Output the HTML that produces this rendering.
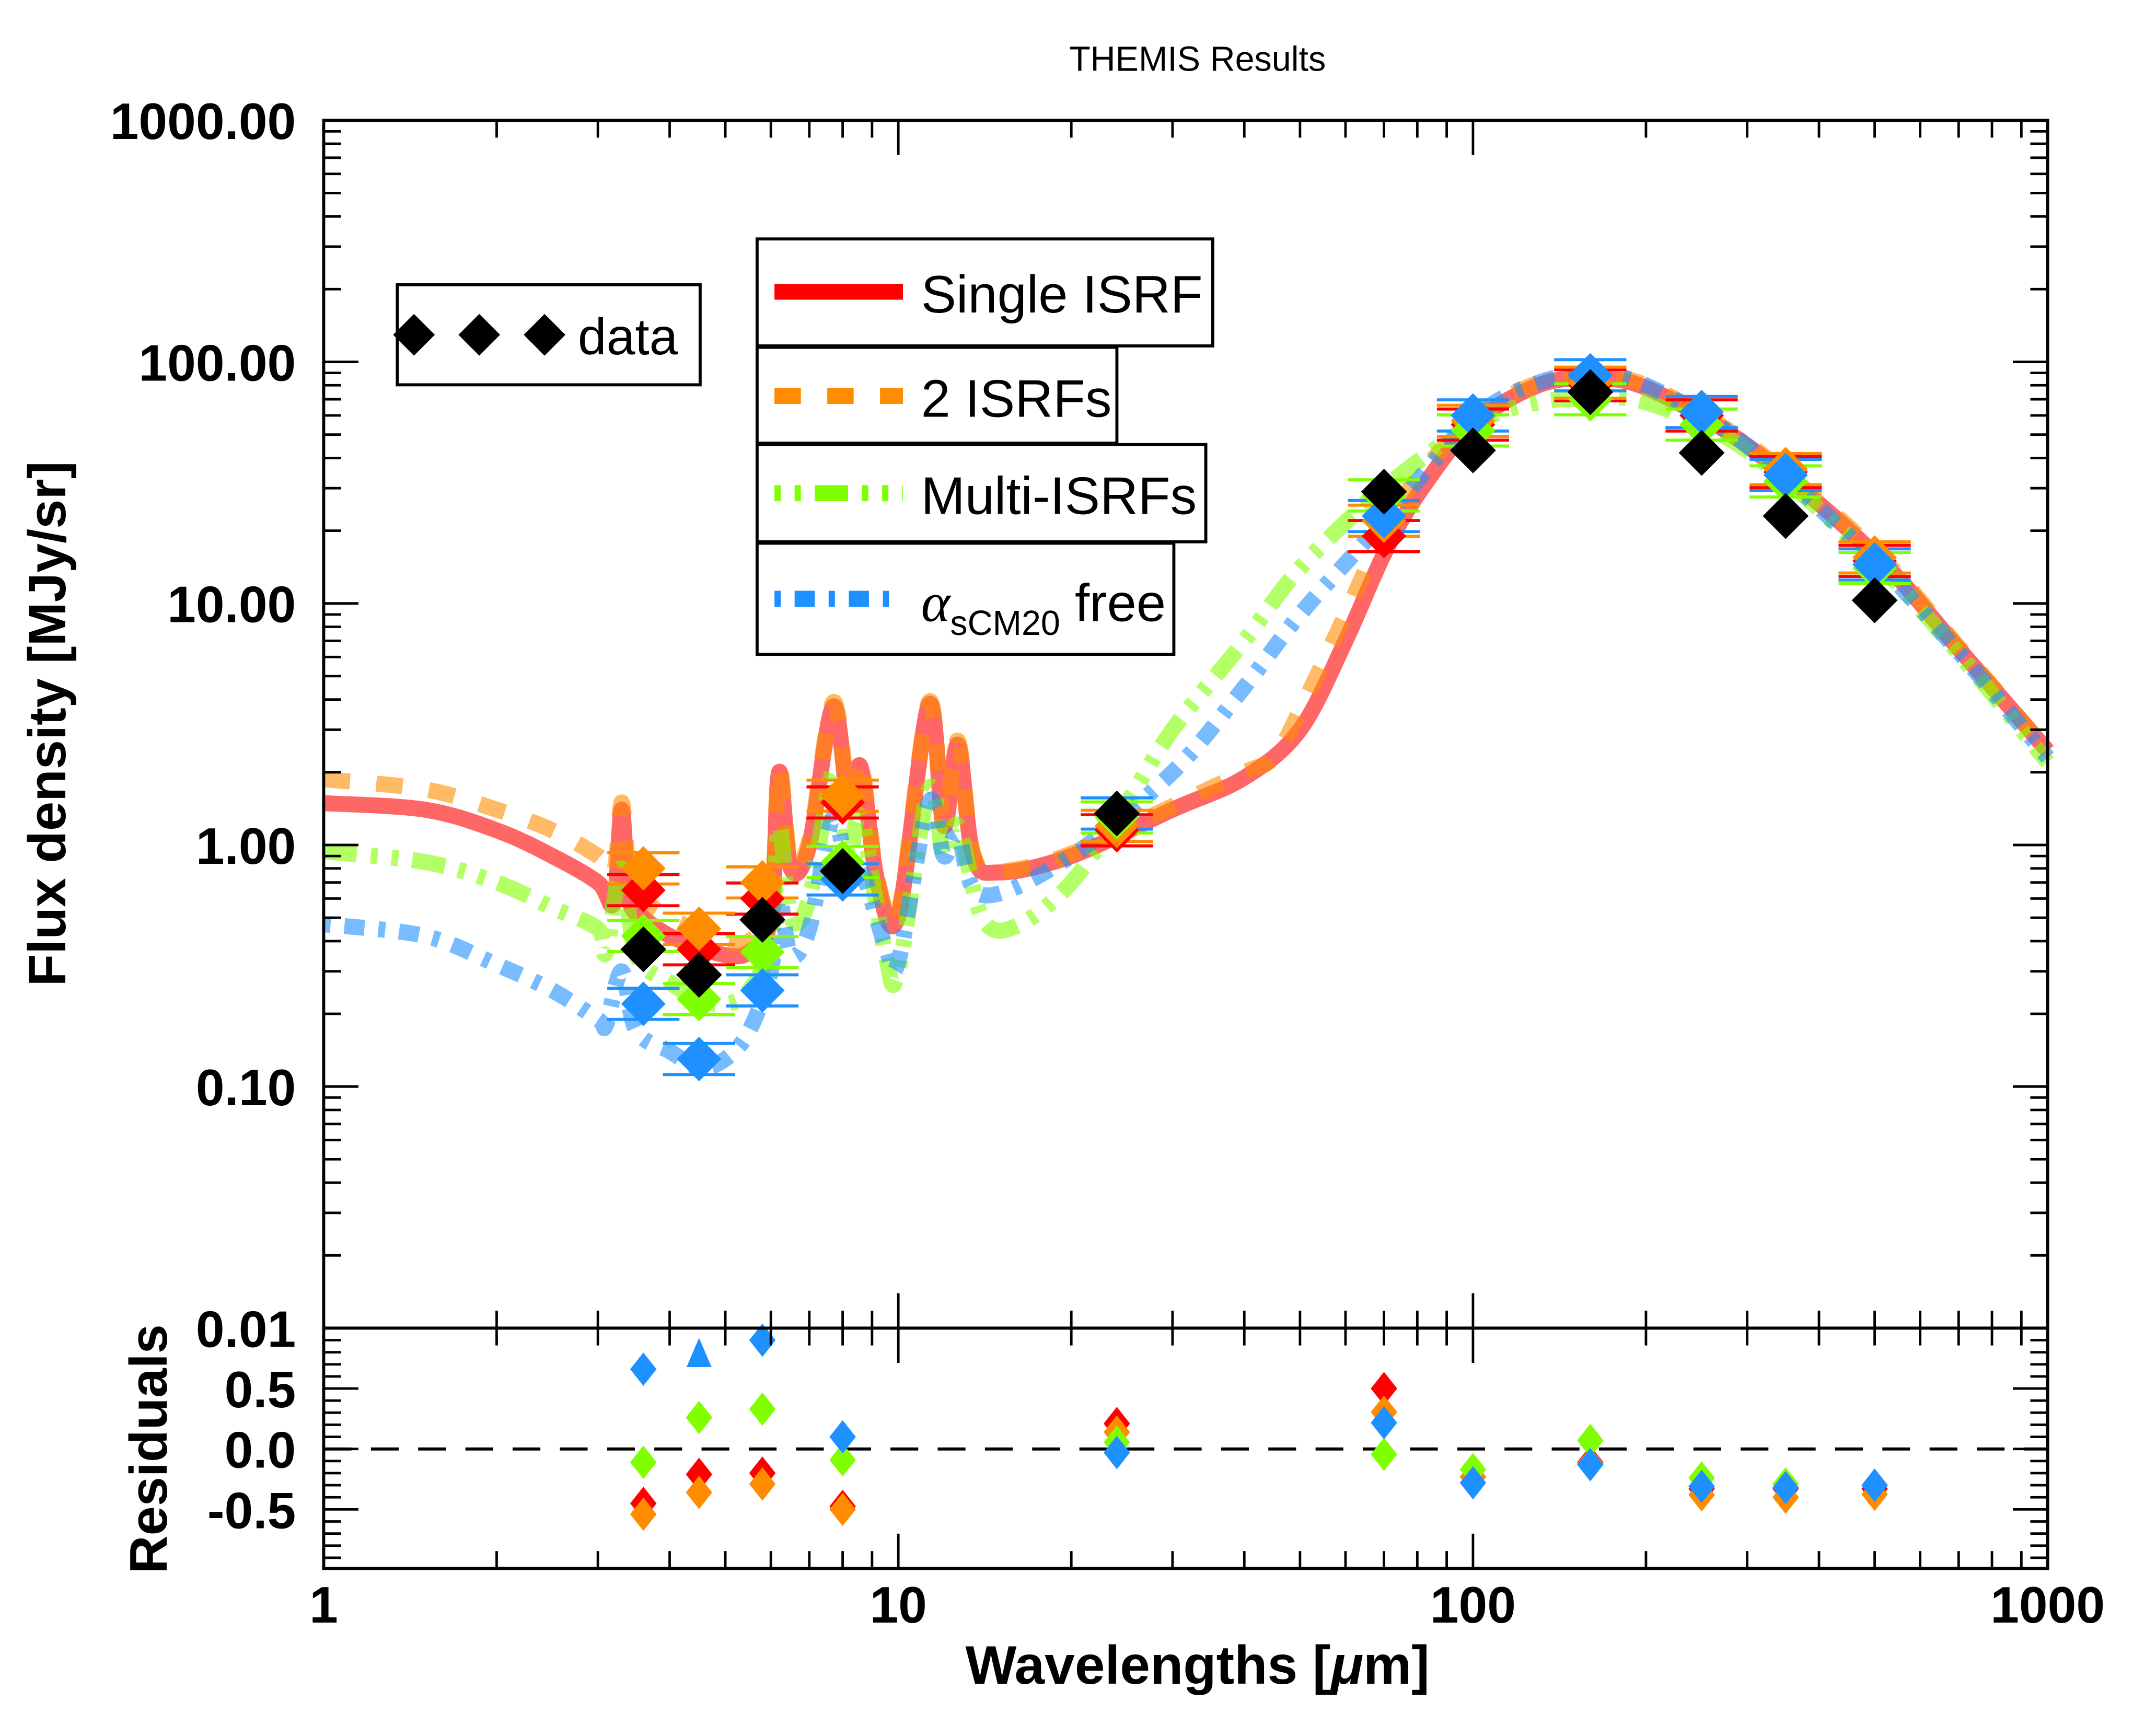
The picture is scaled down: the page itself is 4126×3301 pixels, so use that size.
<!DOCTYPE html>
<html><head><meta charset="utf-8"><style>
html,body{margin:0;padding:0;background:#fff;}
svg{display:block;}
text{font-family:"Liberation Sans",sans-serif;}
</style></head><body>
<svg id="chart" width="4126" height="3301" viewBox="0 0 1552 1241.7" preserveAspectRatio="none" xmlns="http://www.w3.org/2000/svg">
<rect width="1552" height="1241.7" fill="#fff"/>
<g id="curves"></g>
<g id="errs"></g>
<g id="pts"></g>
<g id="resid"></g>
<g id="axes"></g>
<g id="legend"></g>
</svg>
<script>
// ---- data ----
const bandWaves = [3.6, 4.5, 5.8, 8.0, 24, 70, 100, 160, 250, 350, 500];
const obsFlux   = [0.37, 0.29, 0.49, 0.78, 1.35, 29, 43, 75, 42, 23, 10.3];
const singleFlux = [0.65, 0.37, 0.60, 1.5, 1.15, 19, 55, 80, 60, 35, 15];
const twoFlux    = [0.80, 0.45, 0.70, 1.6, 1.2, 22, 57, 82, 62, 36, 15.5];
const multiFlux  = [0.42, 0.23, 0.36, 0.85, 1.3, 28, 52, 70, 55, 32, 14];
const alphaFlux  = [0.22, 0.13, 0.25, 0.72, 1.35, 23, 60, 88, 62, 34, 14.5];
const singleRes = [-0.45, -0.21, -0.20, -0.475, 0.21, 0.50, -0.23, -0.11, -0.33, -0.33, -0.33];
const twoRes    = [-0.54, -0.36, -0.29, -0.50, 0.14, 0.305, -0.23, -0.12, -0.38, -0.40, -0.375];
const multiRes  = [-0.11, 0.26, 0.33, -0.09, 0.055, -0.044, -0.17, 0.07, -0.24, -0.29, -0.30];
const alphaRes  = [0.66, 0.77, 0.90, 0.10, -0.03, 0.217, -0.28, -0.13, -0.31, -0.32, -0.30];
const singleWave = [1,1.5,2,2.5,3,3.2,3.3,3.4,3.6,4,4.5,5,5.5,6,6.2,6.5,7,7.7,8.2,8.6,9.2,10,11.3,12,12.7,13.5,15,20,30,40,50,60,70,80,100,130,160,200,300,500,700,1000];
const singleSed  = [1.49,1.4,1.15,0.9,0.7,0.58,1.4,0.6,0.5,0.42,0.38,0.35,0.36,0.5,2.0,0.8,1.0,3.74,1.5,2.1,0.7,0.51,3.8,1.2,2.6,0.9,0.77,0.9,1.4,1.9,3,7,16,28,55,80,85,78,45,16,6.5,2.45];
const twoWave = [1,1.5,2,2.5,3,3.2,3.3,3.4,3.6,4,4.5,5,5.5,6,6.2,6.5,7,7.7,8.2,8.6,9.2,10,11.3,12,12.7,13.5,15,20,30,40,45,50,60,70,80,100,130,160,200,300,500,700,1000];
const twoSed  = [1.87,1.7,1.4,1.15,0.9,0.78,1.5,0.8,0.6,0.5,0.44,0.4,0.4,0.55,2.1,0.85,1.05,3.9,1.6,2.2,0.72,0.53,3.9,1.25,2.7,0.92,0.78,0.92,1.45,2.0,2.3,3.6,9,20,33,58,82,86,80,46,16.5,6.6,2.45];
const multiWave = [1,1.5,2,2.5,3,3.1,3.3,3.5,4,4.5,5,5.5,6,6.2,6.5,7,7.7,8.2,8.6,9.5,10,11.3,12,12.7,14,16,20,25,30,40,50,70,100,130,160,200,300,500,700,1000];
const multiSed  = [0.94,0.85,0.7,0.55,0.45,0.36,0.8,0.35,0.27,0.23,0.22,0.25,0.4,1.2,0.5,0.6,2.0,0.9,1.3,0.35,0.3,1.7,0.9,1.2,0.5,0.46,0.7,1.5,3,7,14,30,55,68,70,68,43,15,6.2,2.2];
const alphaWave = [1,1.5,2,2.5,3,3.1,3.3,3.5,4,4.5,5,5.5,6,6.2,6.5,7,7.7,8.2,8.6,9.5,10,11.3,12,12.7,14,20,30,40,50,70,100,130,160,200,300,500,700,1000];
const alphaSed  = [0.47,0.42,0.32,0.25,0.19,0.18,0.3,0.17,0.14,0.12,0.13,0.17,0.3,0.6,0.35,0.45,1.3,0.7,0.8,0.38,0.33,1.5,0.9,1.1,0.62,0.9,2,4.5,9,22,58,82,88,80,45,15,6.3,2.3];
const xTicks = [1, 10, 100, 1000];
const xTickLabels = ["1", "10", "100", "1000"];
const yTicks = [1000, 100, 10, 1, 0.1, 0.01];
const yTickLabels = ["1000.00", "100.00", "10.00", "1.00", "0.10", "0.01"];
const rTicks = [0.5, 0, -0.5];
const rTickLabels = ["0.5", "0.0", "-0.5"];

// ---- axes functions ----
const PL = 233, PR = 1474, PT = 86.6, PB = 956, RB = 1129;
const X = w => PL + (PR - PL) / 3 * Math.log10(w);
const Y = f => PT + (PB - PT) / 5 * (3 - Math.log10(f));
const R = r => 1043 - 87 * r;
const NS = "http://www.w3.org/2000/svg";
function mk(tag, attrs, parent) {
  const e = document.createElementNS(NS, tag);
  for (const k in attrs) e.setAttribute(k, attrs[k]);
  parent.appendChild(e); return e;
}
const gC = document.getElementById('curves'), gE = document.getElementById('errs'),
      gP = document.getElementById('pts'), gR = document.getElementById('resid'),
      gA = document.getElementById('axes'), gL = document.getElementById('legend');

function smoothPath(pts) {
  let d = `M${pts[0][0]},${pts[0][1]}`;
  for (let i = 0; i < pts.length - 1; i++) {
    const p0 = pts[Math.max(0, i - 1)], p1 = pts[i], p2 = pts[i + 1], p3 = pts[Math.min(pts.length - 1, i + 2)];
    const c1x = p1[0] + (p2[0] - p0[0]) / 6, c1y = p1[1] + (p2[1] - p0[1]) / 6;
    const c2x = p2[0] - (p3[0] - p1[0]) / 6, c2y = p2[1] - (p3[1] - p1[1]) / 6;
    d += ` C${c1x.toFixed(1)},${c1y.toFixed(1)} ${c2x.toFixed(1)},${c2y.toFixed(1)} ${p2[0].toFixed(1)},${p2[1].toFixed(1)}`;
  }
  return d;
}
const models = [
  {name:'single-isrf', col:'#ff0000', w:singleWave, s:singleSed, dash:'', f:singleFlux, r:singleRes},
  {name:'two-isrfs', col:'#ff8c00', w:twoWave, s:twoSed, dash:'19 19', f:twoFlux, r:twoRes},
  {name:'multi-isrfs', col:'#7fff00', w:multiWave, s:multiSed, dash:'24 10 5 10 5 10', f:multiFlux, r:multiRes},
  {name:'alpha-free', col:'#1e90ff', w:alphaWave, s:alphaSed, dash:'5 10 14.5 10', f:alphaFlux, r:alphaRes}
];
for (const m of models) {
  const pts = m.w.map((w, i) => [X(w), Y(m.s[i])]);
  const p = mk('path', {d: smoothPath(pts), fill:'none', stroke:m.col, 'stroke-width':11.5, 'stroke-opacity':0.6, 'stroke-dasharray':m.dash}, gC);
  
  
}
const diamond = (cx, cy, hw, hh) => `M${cx},${cy-hh} L${cx+hw},${cy} L${cx},${cy+hh} L${cx-hw},${cy} Z`;
for (const m of models) {
  bandWaves.forEach((w, i) => {
    const cx = X(w), v = m.f[i];
    const y1 = Y(v * 1.16), y2 = Y(v / 1.16);
    const eb = mk('path', {d:`M${cx-26},${y1} H${cx+26} M${cx-26},${y2} H${cx+26} M${cx},${y1} V${y2}`, stroke:m.col, 'stroke-width':2.2, fill:'none'}, gE);
    
    
    const d = mk('path', {d: diamond(cx, Y(v), 16, 16), fill:m.col}, gP);
    
    
  });
}
bandWaves.forEach((w, i) => {
  const d = mk('path', {d: diamond(X(w), Y(obsFlux[i]), 16.5, 16.5), fill:'#000'}, gP);
  
  
});
mk('line', {x1:PL, x2:PR, y1:R(0), y2:R(0), stroke:'#000', 'stroke-width':2.2, 'stroke-dasharray':'20 14'}, gR);
for (const m of models) {
  bandWaves.forEach((w, i) => {
    const cx = X(w), r = m.r[i];
    let el;
    if (r > 0.75 && r < 0.8) el = mk('path', {d:`M${cx},${R(r)-13} L${cx+9},${R(r)+8} L${cx-9},${R(r)+8} Z`, fill:m.col}, gR);
    else el = mk('path', {d: diamond(cx, R(r), 9.5, 12), fill:m.col}, gR);
    
    
  });
}
for (const [t, b] of [[PT, PB], [PB, RB]]) {
  const fr = mk('rect', {x:PL, y:t, width:PR-PL, height:b-t, fill:'none', stroke:'#000', 'stroke-width':2.2}, gA);
  
  
}
for (let dec = 0; dec < 3; dec++) {
  for (let k = 1; k <= 10; k++) {
    const w = Math.pow(10, dec) * k;
    if (k === 1 && dec > 0) continue;
    const x = X(w), len = (k === 1 || k === 10) ? 25 : 12.5;
    for (const [yb, dir] of [[PT, 1], [PB, -1], [PB, 1], [RB, -1]]) {
      mk('line', {x1:x, x2:x, y1:yb, y2:yb + dir * len, stroke:'#000', 'stroke-width':1.8}, gA);
    }
  }
}
xTicks.forEach((t, i) => {
  const tx = mk('text', {x:X(t), y:1168, 'font-size':37, 'font-weight':'bold', 'text-anchor':'middle'}, gA);
  tx.textContent = xTickLabels[i];
  
  
});
for (let dec = -2; dec < 3; dec++) {
  for (let k = 1; k <= 10; k++) {
    const f = Math.pow(10, dec) * k;
    const y = Y(f), len = (k === 1 || k === 10) ? 25 : 12.5;
    mk('line', {x1:PL, x2:PL + len, y1:y, y2:y, stroke:'#000', 'stroke-width':1.8}, gA);
    mk('line', {x1:PR, x2:PR - len, y1:y, y2:y, stroke:'#000', 'stroke-width':1.8}, gA);
  }
}
yTicks.forEach((t, i) => {
  const tx = mk('text', {x:213, y:Y(t) + 13.5, 'font-size':37, 'font-weight':'bold', 'text-anchor':'end'}, gA);
  tx.textContent = yTickLabels[i];
  
  
});
for (let v = -9; v <= 9; v++) {
  const r = v / 10, y = R(r), len = (v % 5 === 0) ? 25 : 12.5;
  mk('line', {x1:PL, x2:PL + len, y1:y, y2:y, stroke:'#000', 'stroke-width':1.8}, gA);
  mk('line', {x1:PR, x2:PR - len, y1:y, y2:y, stroke:'#000', 'stroke-width':1.8}, gA);
}
rTicks.forEach((t, i) => {
  const tx = mk('text', {x:213, y:R(t) + 13.5, 'font-size':37, 'font-weight':'bold', 'text-anchor':'end'}, gA);
  tx.textContent = rTickLabels[i];
  
  
});
</script>
<script>
(function(){
const NS="http://www.w3.org/2000/svg", svg=document.getElementById('chart'), gL=document.getElementById('legend');
function t(x,y,s,attrs,name){const e=document.createElementNS(NS,'text');e.setAttribute('x',x);e.setAttribute('y',y);for(const k in attrs)e.setAttribute(k,attrs[k]);e.textContent=s;


svg.appendChild(e);return e;}
t(862,51,'THEMIS Results',{'font-size':25,'text-anchor':'middle'},'chart-title');
t(862,1212,'',{'font-size':39,'font-weight':'bold','text-anchor':'middle'},'x-axis-title').innerHTML='Wavelengths [<tspan font-style="italic">μ</tspan>m]';
t(0,0,'Flux density [MJy/sr]',{'font-size':38,'font-weight':'bold','text-anchor':'middle',transform:'translate(47,521) rotate(-90)'},'y-axis-title');
t(0,0,'Residuals',{'font-size':38,'font-weight':'bold','text-anchor':'middle',transform:'translate(120,1043) rotate(-90)'},'residual-axis-title');
function box(x1,y1,x2,y2,name){const r=document.createElementNS(NS,'rect');r.setAttribute('x',x1);r.setAttribute('y',y1);r.setAttribute('width',x2-x1);r.setAttribute('height',y2-y1);r.setAttribute('fill','#fff');r.setAttribute('stroke','#000');r.setAttribute('stroke-width',2.2);


gL.appendChild(r);}
box(286,205,504,277,'legend-data-box');
box(545,172,873,249,'legend-single-box');
box(545,250,804,319,'legend-two-box');
box(545,320,868,390,'legend-multi-box');
box(545,391,845,471,'legend-alpha-box');
[298,345,392].forEach(cx=>{const p=document.createElementNS(NS,'path');p.setAttribute('d',`M${cx},${241-15} L${cx+15},241 L${cx},${241+15} L${cx-15},241 Z`);p.setAttribute('fill','#000');


gL.appendChild(p);});
function ln(y,col,dash,name){const l=document.createElementNS(NS,'line');l.setAttribute('x1',557.5);l.setAttribute('x2',650);l.setAttribute('y1',y);l.setAttribute('y2',y);l.setAttribute('stroke',col);l.setAttribute('stroke-width',11.5);if(dash)l.setAttribute('stroke-dasharray',dash);


gL.appendChild(l);}
ln(210,'#ff0000','','legend-single-line');
ln(285,'#ff8c00','19 19','legend-two-line');
ln(355,'#7fff00','4.5 10 4.5 10 24 10','legend-multi-line');
ln(431,'#1e90ff','4.5 10 14.5 10','legend-alpha-line');
t(416,255,'data',{'font-size':37},'legend-data-label');
t(663,225,'Single ISRF',{'font-size':38},'legend-single-label');
t(663,300,'2 ISRFs',{'font-size':38},'legend-two-label');
t(663,370,'Multi-ISRFs',{'font-size':38},'legend-multi-label');
t(663,447,'',{'font-size':38},'legend-alpha-label').innerHTML='<tspan font-family="Liberation Serif" font-style="italic" font-size="40">α</tspan><tspan font-size="25" dy="10">sCM20</tspan><tspan dy="-10"> free</tspan>';
})();
</script>
</body></html>
